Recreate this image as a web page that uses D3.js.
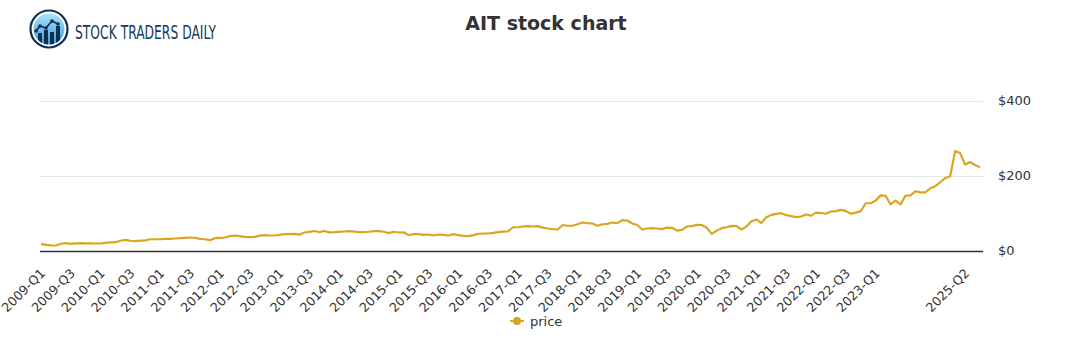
<!DOCTYPE html>
<html>
<head>
<meta charset="utf-8">
<script src="https://cdn.jsdelivr.net/npm/d3@7"></script>
<style>
  html, body { margin: 0; padding: 0; background: #ffffff; }
  svg { display: block; font-family: "DejaVu Sans", sans-serif; }
</style>
</head>
<body>
<svg id="chart" width="1091" height="350"></svg>
<script>
// AIT monthly closing prices (USD), first point 2009-Q1
const prices = [
  17.8, 15, 13.5, 13.3, 18, 19.5, 17.5, 19, 19.6, 19, 19, 18.7, 18.7, 20.4, 21.5, 22.5,
  26, 28.5, 26, 25, 26.5, 27, 30, 30, 30, 31, 31, 32, 33, 33.8, 34.7, 34, 31,
  30, 27.6, 32.9, 33.8, 34.7, 38.2, 40, 38.5, 36.5, 35.6, 36.4, 39.5, 40.9, 40, 40,
  41.8, 43.6, 43.6, 44.4, 42, 48, 49.8, 52, 49, 52, 48.5, 49, 49.8, 50.7, 51.6, 50.7,
  48.9, 48.9, 50, 51.6, 51.6, 50, 46.5, 50, 48, 48.5, 41, 43.6, 43.6, 41.8, 42.7, 40,
  42.7, 41.8, 40, 43.6, 41, 39, 38.2, 41, 44.4, 45.3, 45.3, 47, 49, 50.5, 50.7, 62,
  62, 64, 65, 64, 65, 61, 58.7, 57, 56, 68, 66, 66, 70, 74.7, 73, 72,
  66, 70, 71, 74.7, 73, 80.9, 80, 72, 68, 56, 58.7, 59.6, 58.7, 57, 61,
  60.5, 53, 55, 64, 65, 68.4, 68, 60.5, 44.4, 53, 59.6, 62, 65.8, 65, 56, 64,
  78, 82.7, 72.9, 88.9, 95, 97.8, 99.6, 94.2, 91.6, 88.9, 90.7, 96, 93, 101, 100, 98, 104,
  105, 108.4, 105, 97.8, 101, 105, 126, 126, 133, 147, 146, 123, 133, 123, 146,
  147, 158, 155, 155, 166, 171.6, 182, 193, 198, 265, 260, 229, 236, 228, 222
];

// Quarter labels and the data point each one sits on
const tickLabels = [
  "2009-Q1", "2009-Q3", "2010-Q1", "2010-Q3", "2011-Q1", "2011-Q3", "2012-Q1", "2012-Q3",
  "2013-Q1", "2013-Q3", "2014-Q1", "2014-Q3", "2015-Q1", "2015-Q3", "2016-Q1", "2016-Q3",
  "2017-Q1", "2017-Q3", "2018-Q1", "2018-Q3", "2019-Q1", "2019-Q3", "2020-Q1", "2020-Q3",
  "2021-Q1", "2021-Q3", "2022-Q1", "2022-Q3", "2023-Q1", "2025-Q2"
];
const tickIndex = [
  0, 6, 12, 18, 24, 30, 36, 42, 48, 54, 60, 66, 72, 78, 84, 90,
  96, 102, 108, 114, 120, 126, 132, 138, 144, 150, 156, 162, 168, 186
];

const yTicks = [0, 200, 400];
const seriesName = "price";
const title = "AIT stock chart";
const brand = "STOCK TRADERS DAILY";

const lineColor = "#dba520";
const svg = d3.select("#chart");

// ---- scales ----
const plotLeft = 40, plotRight = 983;
const x = d3.scalePoint()
  .domain(d3.range(prices.length))
  .range([41, 980]);
const y = d3.scaleLinear()
  .domain([0, 400])
  .range([250.5, 100.5]);

// ---- title ----
svg.append("text")
  .attr("x", 546)
  .attr("y", 30)
  .attr("text-anchor", "middle")
  .attr("font-size", 19)
  .attr("font-weight", "bold")
  .attr("fill", "#333333")
  .text(title);

// ---- brand mark ----
const logo = svg.append("g").attr("transform", "translate(49,29)");
const defs = svg.append("defs");
const grad = defs.append("linearGradient")
  .attr("id", "logoFill").attr("x1", 0).attr("y1", 0).attr("x2", 0).attr("y2", 1);
grad.append("stop").attr("offset", "0%").attr("stop-color", "#a9e2fb");
grad.append("stop").attr("offset", "100%").attr("stop-color", "#3b9fdc");
defs.append("clipPath").attr("id", "logoClip")
  .append("circle").attr("r", 15.5);

logo.append("circle").attr("r", 18.5).attr("fill", "#ffffff")
  .attr("stroke", "#0f2f4f").attr("stroke-width", 2.2);
logo.append("circle").attr("r", 15.5).attr("fill", "url(#logoFill)");
const inner = logo.append("g").attr("clip-path", "url(#logoClip)");
const barsX = [-11, -5, 1, 7];
const barsTop = [4, 1, 3, -3];
inner.selectAll("rect.bar").data(barsX).join("rect")
  .attr("x", d => d)
  .attr("y", (d, i) => barsTop[i])
  .attr("width", 4)
  .attr("height", (d, i) => 20 - barsTop[i])
  .attr("fill", "#0f2f4f");
const trend = [[-13, 2], [-9, -3], [-3, -1], [3, -8], [9, -5]];
inner.append("path")
  .attr("d", d3.line()(trend))
  .attr("fill", "none").attr("stroke", "#0f2f4f").attr("stroke-width", 1.6);
inner.selectAll("circle.pt").data(trend).join("circle")
  .attr("cx", d => d[0]).attr("cy", d => d[1]).attr("r", 1.8)
  .attr("fill", "#0f2f4f");

svg.append("text")
  .attr("x", 75)
  .attr("y", 38.5)
  .attr("font-family", "'Liberation Sans Narrow', 'DejaVu Sans Condensed', sans-serif")
  .attr("font-size", 19)
  .attr("fill", "#163a5c")
  .attr("textLength", 141)
  .attr("lengthAdjust", "spacingAndGlyphs")
  .text(brand);

// ---- gridlines and right-hand value labels ----
svg.append("g").selectAll("line")
  .data(yTicks.filter(v => v > 0))
  .join("line")
  .attr("x1", plotLeft).attr("x2", plotRight)
  .attr("y1", d => Math.round(y(d)) + 0.5)
  .attr("y2", d => Math.round(y(d)) + 0.5)
  .attr("stroke", "#e6e6e6").attr("stroke-width", 1);

svg.append("g").selectAll("text")
  .data(yTicks)
  .join("text")
  .attr("x", 998)
  .attr("y", d => y(d))
  .attr("dy", "0.35em")
  .attr("font-size", 13)
  .attr("fill", "#333333")
  .text(d => "$" + d);

// baseline
svg.append("line")
  .attr("x1", plotLeft).attr("x2", plotRight)
  .attr("y1", Math.round(y(0)) + 0.5).attr("y2", Math.round(y(0)) + 0.5)
  .attr("stroke", "#333333").attr("stroke-width", 1.3);

// ---- rotated category labels ----
svg.append("g").selectAll("text")
  .data(tickIndex)
  .join("text")
  .attr("transform", d => `translate(${x(d) + 5},274) rotate(-45)`)
  .attr("text-anchor", "end")
  .attr("font-size", 12.6)
  .attr("fill", "#333333")
  .text((d, i) => tickLabels[i]);

// ---- price line ----
svg.append("path")
  .datum(prices)
  .attr("fill", "none")
  .attr("stroke", lineColor)
  .attr("stroke-width", 2.2)
  .attr("stroke-linejoin", "round")
  .attr("d", d3.line().x((d, i) => x(i)).y(d => y(d)));

// ---- legend ----
const legend = svg.append("g").attr("transform", "translate(517,321)");
legend.append("line").attr("x1", -7).attr("x2", 7)
  .attr("stroke", lineColor).attr("stroke-width", 2);
legend.append("circle").attr("r", 4).attr("fill", lineColor);
legend.append("text")
  .attr("x", 13).attr("y", 0).attr("dy", "0.35em")
  .attr("font-size", 13).attr("fill", "#333333")
  .text(seriesName);
</script>
</body>
</html>
